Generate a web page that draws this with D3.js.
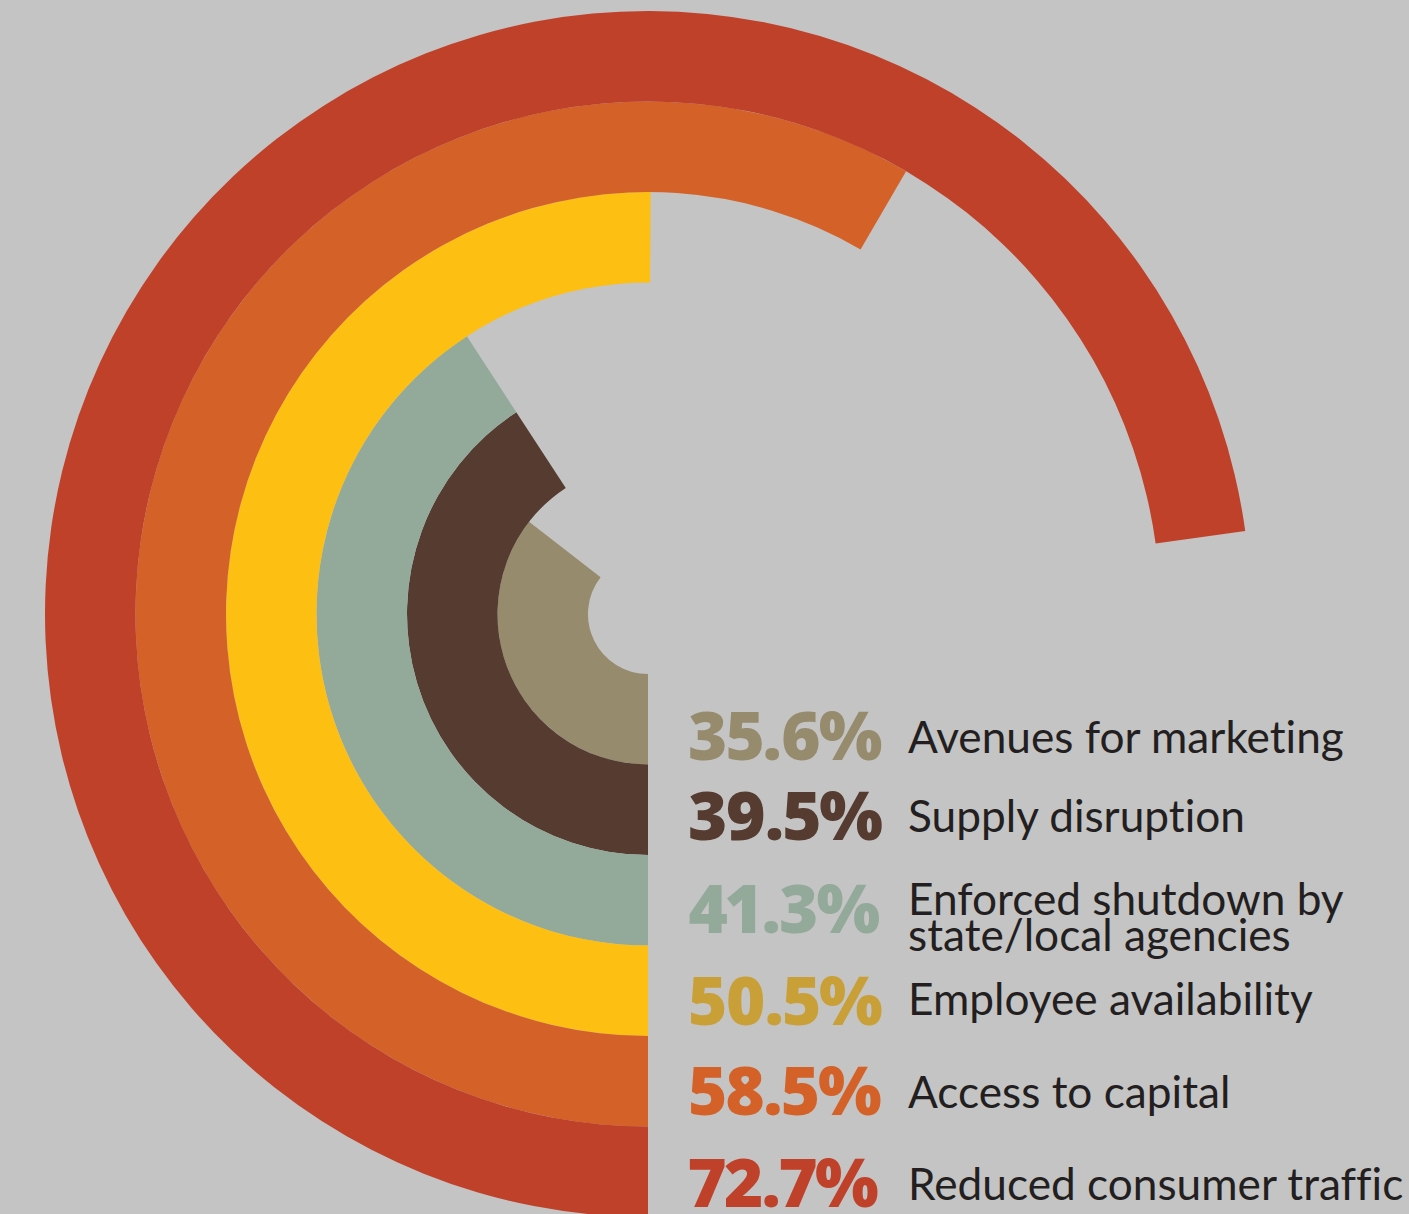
<!DOCTYPE html>
<html>
<head>
<meta charset="utf-8">
<script src="https://cdn.jsdelivr.net/npm/d3@7"></script>
<style>
  html, body { margin: 0; padding: 0; background: #c4c4c4; }
  svg { display: block; }
  text { font-variant-ligatures: none; font-feature-settings: "liga" 0, "clig" 0; }
  text.pct { font-variant-numeric: proportional-nums; font-feature-settings: "pnum" 1, "liga" 0; }
</style>
</head>
<body>
<svg id="chart" width="1409" height="1214"></svg>
<script>
// ---- data ----
const categories = [
  "Avenues for marketing",
  "Supply disruption",
  "Enforced shutdown by\nstate/local agencies",
  "Employee availability",
  "Access to capital",
  "Reduced consumer traffic"
];
// labelled values (%)
const values = [35.6, 39.5, 41.3, 50.5, 58.5, 72.7];
// sweep of each ring as drawn in the picture (% of a full turn)
const arcPercent = [35.5, 40.8, 40.8, 50.1, 58.4, 72.8];
const ringColors = ["#968b6d", "#553b30", "#93aa9a", "#fdbf12", "#d46228", "#c0412a"];
const textColors = ["#968b6d", "#553b30", "#93aa9a", "#c9a037", "#d46228", "#c0412a"];
const pctBaselines = [760, 840, 933, 1025, 1115, 1207];
const labelBaselines = [753, 832, 915, 1015, 1108, 1200];

// ---- layout ----
const W = 1409, H = 1214;
const cx = 648, cy = 614;
const innerR = 60, outerR = 603;

const svg = d3.select("#chart");
svg.append("rect").attr("width", W).attr("height", H).attr("fill", "#c4c4c4");

const rScale = d3.scaleBand()
  .domain(d3.range(values.length))
  .range([innerR, outerR])
  .paddingInner(0);

const angle = d3.scaleLinear().domain([0, 100]).range([Math.PI, 3 * Math.PI]);

const arc = d3.arc()
  .innerRadius((d, i) => rScale(i))
  .outerRadius((d, i) => rScale(i) + rScale.bandwidth())
  .startAngle(angle(0))
  .endAngle(d => angle(d));

const g = svg.append("g").attr("transform", `translate(${cx},${cy})`);
g.selectAll("path.ring")
  .data(arcPercent)
  .enter().append("path")
  .attr("class", "ring")
  .attr("d", (d, i) => arc(d, i))
  .attr("fill", (d, i) => ringColors[i]);

// ---- labels ----
const pctX = 688, labX = 908;
const pctG = svg.append("g");
const pcts = pctG.selectAll("text")
  .data(values)
  .enter().append("text")
  .attr("class", "pct")
  .attr("x", pctX)
  .attr("y", (d, i) => pctBaselines[i])
  .attr("fill", (d, i) => textColors[i])
  .style("font-family", "'Open Sans', Lato, sans-serif")
  .style("font-weight", 800)
  .style("font-size", "64px")
  .style("letter-spacing", "-2px")
  .text(d => d.toFixed(1) + "%");

// fit percentage size so that "35.6%" is ~192px wide
{
  const w = pcts.nodes()[0].getComputedTextLength();
  const s = 64 * 192 / w;
  pcts.style("font-size", s.toFixed(1) + "px");
}

const labG = svg.append("g");
const labs = labG.selectAll("text")
  .data(categories)
  .enter().append("text")
  .attr("x", labX)
  .attr("y", (d, i) => labelBaselines[i])
  .attr("fill", "#231f20")
  .style("font-family", "Lato, 'Open Sans', sans-serif")
  .style("font-weight", 400)
  .style("font-size", "42px");

labs.each(function(d) {
  const lines = d.split("\n");
  const t = d3.select(this);
  lines.forEach((ln, k) => {
    t.append("tspan").attr("x", labX).attr("dy", k === 0 ? 0 : 36).text(ln);
  });
});

// fit label size so that "Avenues for marketing" is ~436px wide
{
  const w = labs.nodes()[0].getComputedTextLength();
  const s = 42 * 436 / w;
  labs.style("font-size", s.toFixed(1) + "px");
}
</script>
</body>
</html>
